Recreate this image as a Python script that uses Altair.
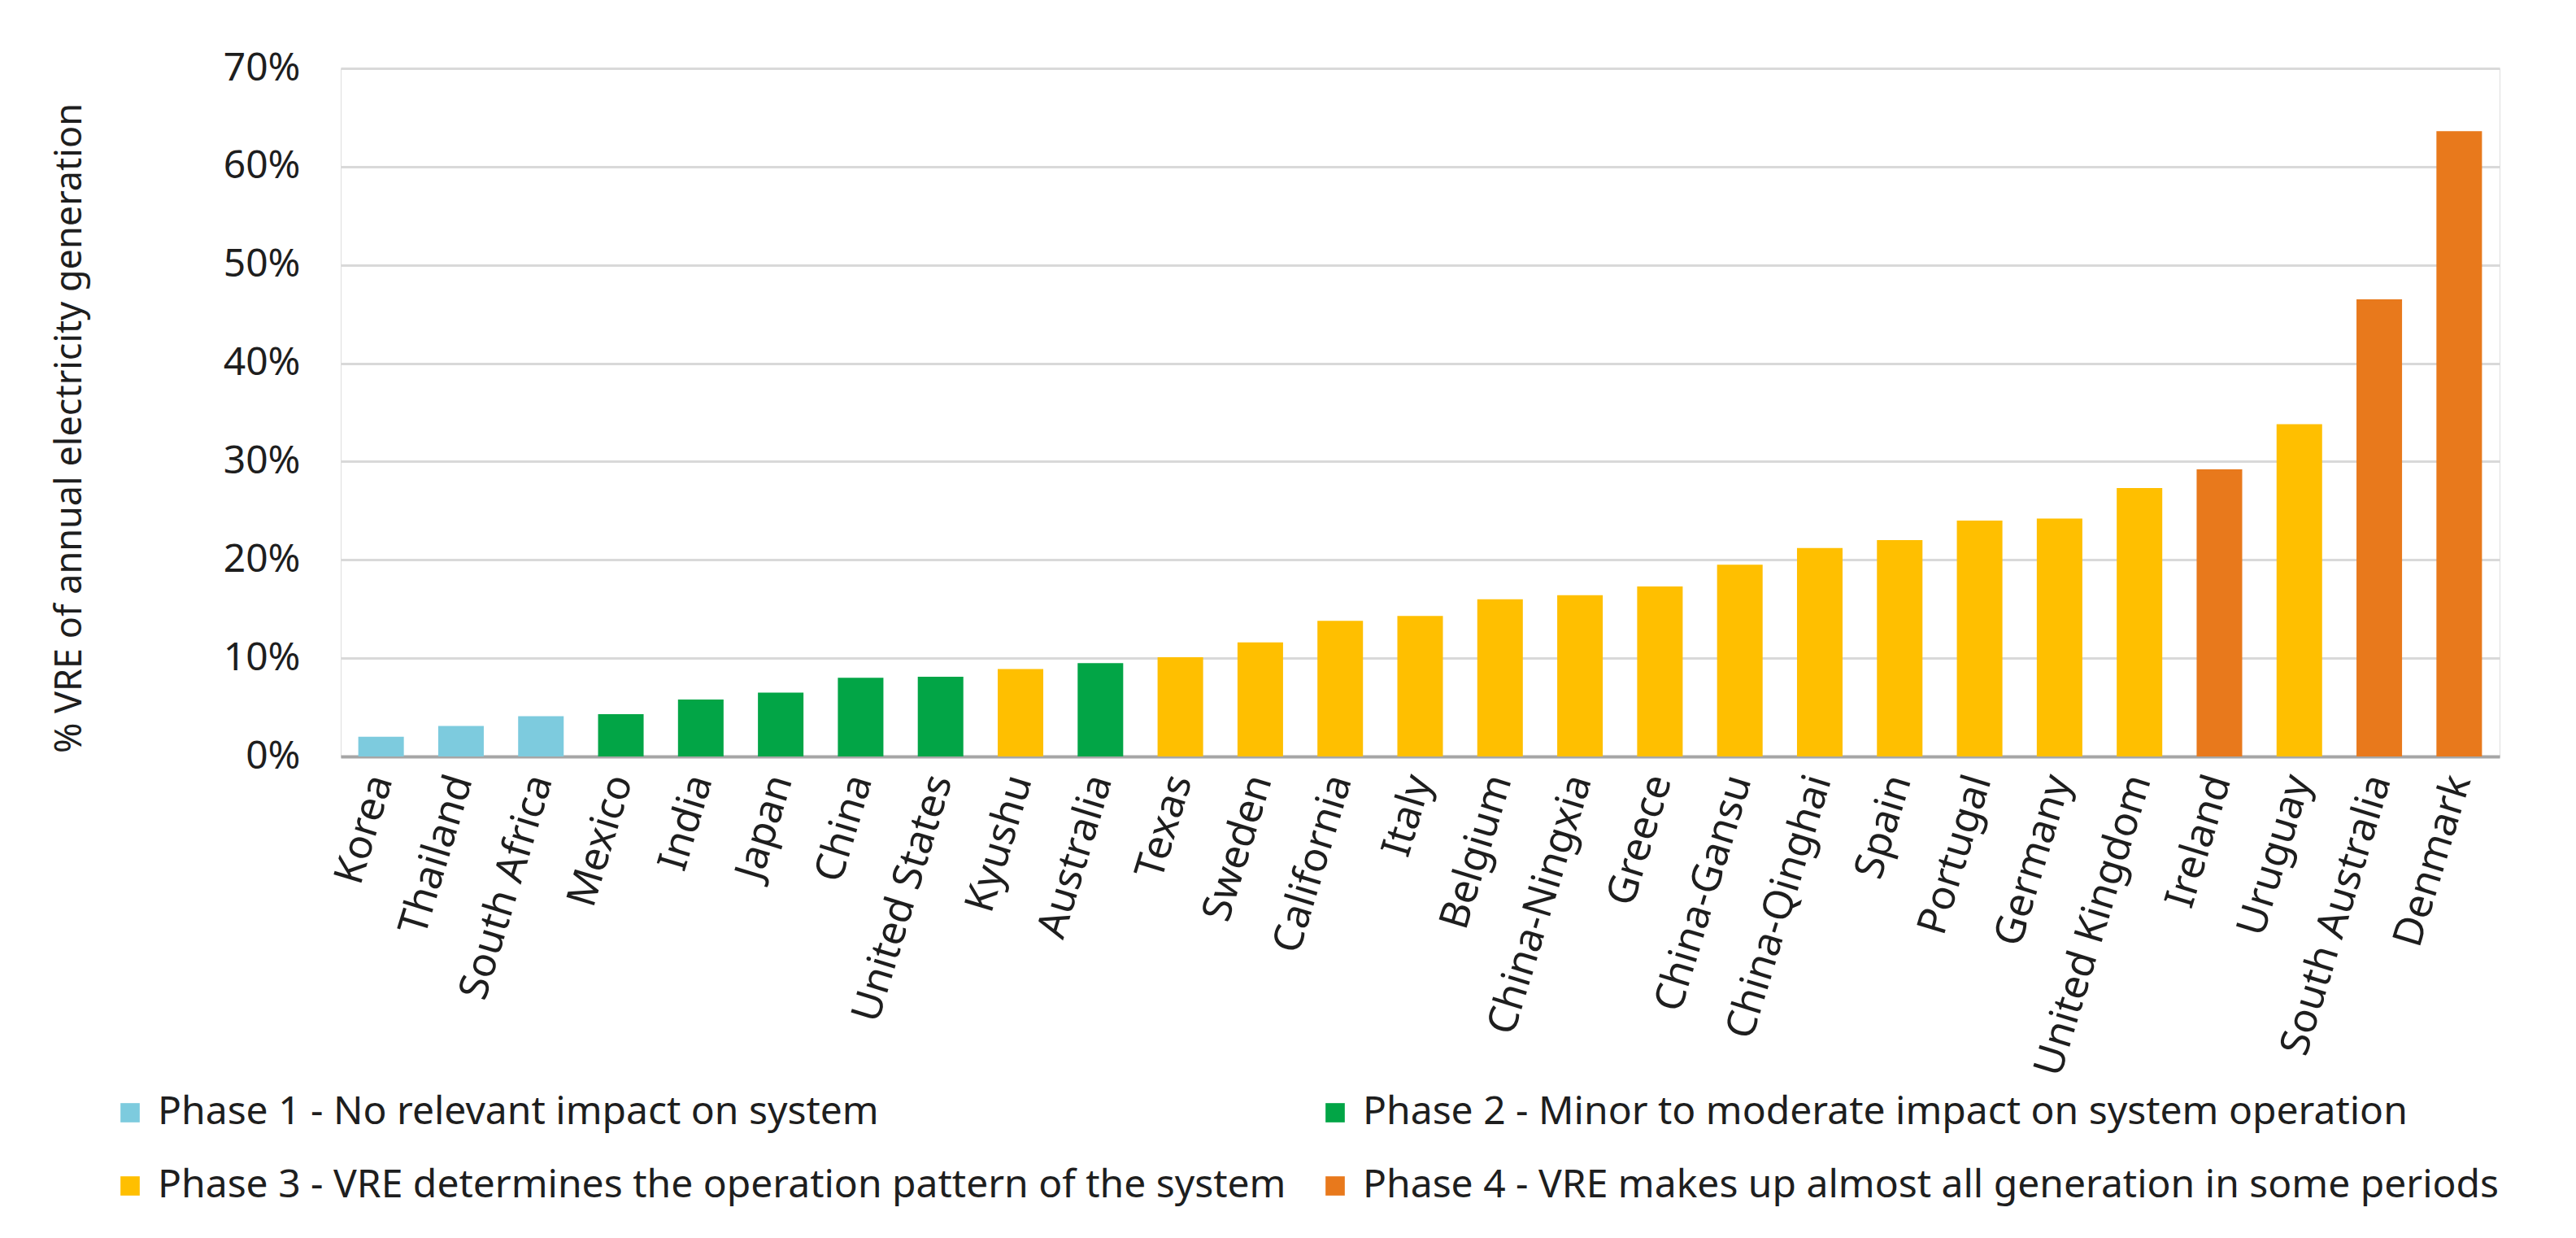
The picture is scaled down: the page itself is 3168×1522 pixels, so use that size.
import altair as alt
import pandas as pd

countries = ["Korea", "Thailand", "South Africa", "Mexico", "India", "Japan", "China",
             "United States", "Kyushu", "Australia", "Texas", "Sweden", "California", "Italy",
             "Belgium", "China-Ningxia", "Greece", "China-Gansu", "China-Qinghai", "Spain",
             "Portugal", "Germany", "United Kingdom", "Ireland", "Uruguay", "South Australia",
             "Denmark"]
values = [2.0, 3.1, 4.1, 4.3, 5.8, 6.5, 8.0,
          8.1, 8.9, 9.5, 10.1, 11.6, 13.8, 14.3,
          16.0, 16.4, 17.3, 19.5, 21.2, 22.0,
          24.0, 24.2, 27.3, 29.2, 33.8, 46.5,
          63.6]
phase_of = [1, 1, 1, 2, 2, 2, 2,
            2, 3, 2, 3, 3, 3, 3,
            3, 3, 3, 3, 3, 3,
            3, 3, 3, 4, 3, 4,
            4]
phase_names = [
    "Phase 1 - No relevant impact on system",
    "Phase 2 - Minor to moderate impact on system operation",
    "Phase 3 - VRE determines the operation pattern of the system",
    "Phase 4 - VRE makes up almost all generation in some periods",
]
phase_colors = ["#7DCBDE", "#02A546", "#FFBF00", "#E8791C"]

df = pd.DataFrame({
    "country": countries,
    "share": [v / 100 for v in values],
    "phase": [phase_names[p - 1] for p in phase_of],
})

FONT = "Noto Sans"
TXT = "#1e1e1e"

chart = alt.Chart(df).mark_bar().encode(
    x=alt.X("country:N", sort=countries,
            scale=alt.Scale(paddingInner=0.43, paddingOuter=0.22),
            axis=alt.Axis(title=None, labelAngle=-73, labelAlign="right",
                          labelBaseline="middle", labelPadding=24, labelLimit=800,
                          labelOverlap=False, ticks=False, domainColor="#A6A6A6",
                          domainWidth=4, labelFontSize=50, labelFont=FONT,
                          labelColor=TXT)),
    y=alt.Y("share:Q", scale=alt.Scale(domain=[0, 0.7], nice=False),
            axis=alt.Axis(title="% VRE of annual electricity generation",
                          values=[0, 0.1, 0.2, 0.3, 0.4, 0.5, 0.6, 0.7],
                          format=".0%", domain=False, ticks=False,
                          gridColor="#D9D9D9", gridWidth=3, labelPadding=50,
                          labelFontSize=48, labelFont=FONT, labelColor=TXT,
                          titleFontSize=45, titleFont=FONT, titleFontWeight="normal",
                          titleColor=TXT, titleX=-334, titleY=442,
                          titleAlign="center", titleBaseline="middle")),
    color=alt.Color("phase:N",
                    scale=alt.Scale(domain=phase_names, range=phase_colors),
                    legend=alt.Legend(title=None, orient="none", legendX=-283,
                                      legendY=1260, columns=2, direction="horizontal",
                                      symbolType="square",
                                      symbolSize=560, symbolStrokeWidth=0,
                                      labelFontSize=48, labelFont=FONT,
                                      labelColor=TXT, labelLimit=2000,
                                      labelOffset=10, rowPadding=42,
                                      columnPadding=36)),
).properties(
    width=2655, height=846,
    autosize=alt.AutoSizeParams(type="none"),
    padding={"left": 411, "top": 76, "right": 86, "bottom": 584},
).configure_view(stroke=None).configure(background="white")

chart.save("out.html", embed_options={"renderer": "svg", "actions": False})
